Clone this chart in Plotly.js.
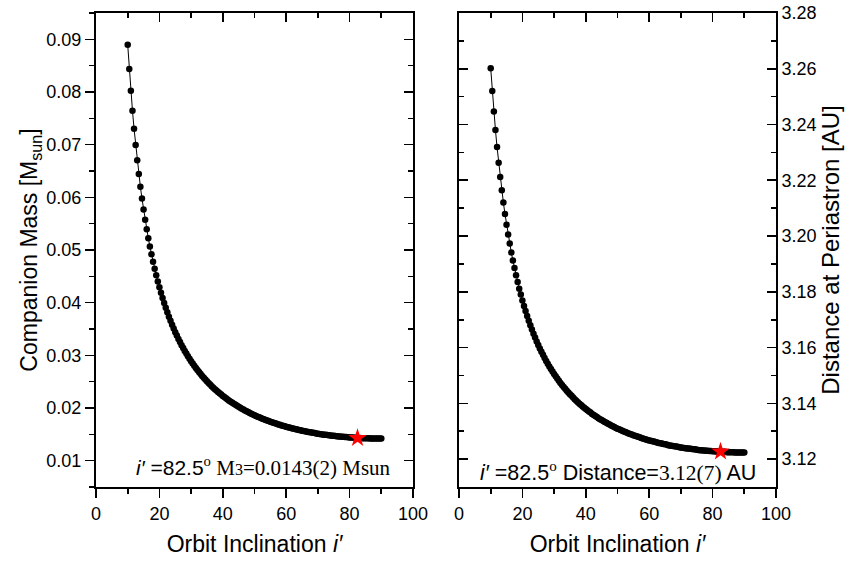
<!DOCTYPE html>
<html>
<head>
<meta charset="utf-8">
<script src="https://cdn.plot.ly/plotly-3.0.1.min.js"></script>
<style>html,body{margin:0;padding:0;background:#fff;}#chart{width:859px;height:562px;}</style>
</head>
<body>
<div id="chart"></div>
<script>
const inclination = [
10,10.5,11,11.5,12,12.5,13,13.5,14,14.5,
15,15.5,16,16.5,17,17.5,18,18.5,19,19.5,
20,20.5,21,21.5,22,22.5,23,23.5,24,24.5,
25,25.5,26,26.5,27,27.5,28,28.5,29,29.5,
30,30.5,31,31.5,32,32.5,33,33.5,34,34.5,
35,35.5,36,36.5,37,37.5,38,38.5,39,39.5,
40,40.5,41,41.5,42,42.5,43,43.5,44,44.5,
45,45.5,46,46.5,47,47.5,48,48.5,49,49.5,
50,50.5,51,51.5,52,52.5,53,53.5,54,54.5,
55,55.5,56,56.5,57,57.5,58,58.5,59,59.5,
60,60.5,61,61.5,62,62.5,63,63.5,64,64.5,
65,65.5,66,66.5,67,67.5,68,68.5,69,69.5,
70,70.5,71,71.5,72,72.5,73,73.5,74,74.5,
75,75.5,76,76.5,77,77.5,78,78.5,79,79.5,
80,80.5,81,81.5,82,82.5,83,83.5,84,84.5,
85,85.5,86,86.5,87,87.5,88,88.5,89,89.5,
90];

const companionMass = [
0.08899,0.08437,0.08022,0.07646,0.07304,0.06992,0.06706,0.06443,0.06201,0.05976,
0.05768,0.05574,0.05393,0.05224,0.05066,0.04917,0.04777,0.04646,0.04521,0.04404,
0.04293,0.04187,0.04087,0.03992,0.03902,0.03816,0.03734,0.03655,0.03580,0.03509,
0.03440,0.03375,0.03312,0.03251,0.03193,0.03138,0.03084,0.03033,0.02983,0.02935,
0.02889,0.02845,0.02802,0.02761,0.02721,0.02682,0.02645,0.02609,0.02574,0.02540,
0.02507,0.02476,0.02445,0.02415,0.02386,0.02358,0.02331,0.02305,0.02279,0.02254,
0.02230,0.02207,0.02184,0.02162,0.02140,0.02119,0.02099,0.02079,0.02060,0.02041,
0.02022,0.02005,0.01987,0.01970,0.01954,0.01938,0.01922,0.01907,0.01892,0.01877,
0.01863,0.01850,0.01836,0.01823,0.01810,0.01798,0.01786,0.01774,0.01762,0.01751,
0.01740,0.01729,0.01719,0.01709,0.01699,0.01689,0.01680,0.01670,0.01661,0.01653,
0.01644,0.01636,0.01628,0.01620,0.01612,0.01604,0.01597,0.01590,0.01583,0.01576,
0.01570,0.01563,0.01557,0.01551,0.01545,0.01539,0.01534,0.01528,0.01523,0.01518,
0.01513,0.01508,0.01503,0.01499,0.01494,0.01490,0.01486,0.01482,0.01478,0.01475,
0.01471,0.01468,0.01464,0.01461,0.01458,0.01455,0.01452,0.01450,0.01447,0.01445,
0.01442,0.01440,0.01438,0.01436,0.01434,0.01432,0.01431,0.01429,0.01428,0.01427,
0.01426,0.01424,0.01424,0.01423,0.01422,0.01421,0.01421,0.01420,0.01420,0.01420,
0.01420];

const periastronDistance = [
3.2602,3.2520,3.2447,3.2380,3.2319,3.2263,3.2212,3.2164,3.2120,3.2079,
3.2041,3.2006,3.1973,3.1941,3.1912,3.1885,3.1859,3.1835,3.1811,3.1790,
3.1769,3.1749,3.1731,3.1713,3.1696,3.1680,3.1665,3.1650,3.1636,3.1622,
3.1609,3.1597,3.1585,3.1574,3.1563,3.1552,3.1542,3.1532,3.1523,3.1514,
3.1505,3.1497,3.1489,3.1481,3.1473,3.1466,3.1459,3.1452,3.1445,3.1439,
3.1433,3.1427,3.1421,3.1415,3.1409,3.1404,3.1399,3.1394,3.1389,3.1384,
3.1380,3.1375,3.1371,3.1367,3.1362,3.1358,3.1355,3.1351,3.1347,3.1343,
3.1340,3.1337,3.1333,3.1330,3.1327,3.1324,3.1321,3.1318,3.1315,3.1312,
3.1309,3.1307,3.1304,3.1302,3.1299,3.1297,3.1295,3.1292,3.1290,3.1288,
3.1286,3.1284,3.1282,3.1280,3.1278,3.1276,3.1274,3.1272,3.1270,3.1269,
3.1267,3.1266,3.1264,3.1263,3.1261,3.1260,3.1258,3.1257,3.1256,3.1254,
3.1253,3.1252,3.1250,3.1249,3.1248,3.1247,3.1246,3.1245,3.1244,3.1243,
3.1242,3.1241,3.1240,3.1239,3.1238,3.1238,3.1237,3.1236,3.1235,3.1235,
3.1234,3.1233,3.1232,3.1232,3.1231,3.1231,3.1230,3.1230,3.1229,3.1229,
3.1228,3.1228,3.1227,3.1227,3.1227,3.1226,3.1226,3.1226,3.1226,3.1225,
3.1225,3.1225,3.1225,3.1225,3.1224,3.1224,3.1224,3.1224,3.1224,3.1224,
3.1224];

const bestInclination = [82.5];
const bestMass = [0.0143];
const bestDistance = [3.1227];

const massTicks = [0.01,0.02,0.03,0.04,0.05,0.06,0.07,0.08,0.09];
const distTicks = [3.12,3.14,3.16,3.18,3.20,3.22,3.24,3.26,3.28];
const incTicks = [0,20,40,60,80,100];

const SANS = 'Liberation Sans, Arial, sans-serif';
const SERIF = 'Liberation Serif, Times New Roman, serif';

function base(extra) {
  return Object.assign({
    showline: true, linecolor: '#000', linewidth: 2,
    showgrid: false, zeroline: false,
    ticks: 'outside', ticklen: 9, tickwidth: 1.6, tickcolor: '#000',
    tickfont: {family: SANS, size: 18, color: '#000'},
    fixedrange: true
  }, extra);
}

const curveStyle = {
  mode: 'lines+markers',
  line: {color: '#000', width: 1},
  marker: {color: '#000', size: 6.5},
  showlegend: false, hoverinfo: 'skip'
};
const starStyle = {
  mode: 'markers',
  marker: {symbol: 'star', color: '#ff0000', size: 14, line: {width: 0}},
  showlegend: false, hoverinfo: 'skip'
};
const frameStub = {mode: 'markers', showlegend: false, hoverinfo: 'skip', marker: {opacity: 0}};

const data = [
  Object.assign({x: inclination, y: companionMass, xaxis: 'x', yaxis: 'y'}, curveStyle),
  Object.assign({x: bestInclination, y: bestMass, xaxis: 'x', yaxis: 'y'}, starStyle),
  Object.assign({x: inclination, y: periastronDistance, xaxis: 'x2', yaxis: 'y2'}, curveStyle),
  Object.assign({x: bestInclination, y: bestDistance, xaxis: 'x2', yaxis: 'y2'}, starStyle),
  // empty traces so that the mirror frame axes are drawn
  Object.assign({x: [], y: [], xaxis: 'x3', yaxis: 'y'}, frameStub),
  Object.assign({x: [], y: [], xaxis: 'x', yaxis: 'y3'}, frameStub),
  Object.assign({x: [], y: [], xaxis: 'x4', yaxis: 'y2'}, frameStub),
  Object.assign({x: [], y: [], xaxis: 'x2', yaxis: 'y4'}, frameStub)
];

const xMinor = {dtick: 10, ticklen: 5, tickwidth: 1.6, tickcolor: '#000', ticks: 'outside'};
const xMinorIn = {dtick: 10, ticklen: 5, tickwidth: 1.6, tickcolor: '#000', ticks: 'inside'};
const titleFont = {family: SANS, size: 23, color: '#000'};

const layout = {
  width: 859, height: 562,
  margin: {l: 96, r: 83, t: 13, b: 75},
  paper_bgcolor: '#fff', plot_bgcolor: '#fff',
  font: {family: SANS, color: '#000'},
  xaxis: base({domain: [0, 317/680], anchor: 'y', range: [0, 100],
    tickvals: incTicks, minor: xMinor,
    title: {text: 'Orbit Inclination <i>i′</i>', font: titleFont, standoff: 13}}),
  yaxis: base({domain: [0, 1], anchor: 'x', range: [0.005, 0.095],
    tickvals: massTicks, ticktext: massTicks.map(v => v.toFixed(2)),
    minor: {dtick: 0.005, tick0: 0, ticklen: 5, tickwidth: 1.6, tickcolor: '#000', ticks: 'outside'},
    title: {text: 'Companion Mass [M<sub>sun</sub>]', font: titleFont, standoff: 2}}),
  xaxis3: base({overlaying: 'x', side: 'top', anchor: 'y', range: [0, 100],
    tickvals: incTicks, showticklabels: false, ticks: 'inside', minor: xMinorIn}),
  yaxis3: base({overlaying: 'y', side: 'right', anchor: 'x', range: [0.005, 0.095],
    tickvals: massTicks, showticklabels: false, ticks: 'inside',
    minor: {dtick: 0.005, tick0: 0, ticklen: 5, tickwidth: 1.6, tickcolor: '#000', ticks: 'inside'}}),
  xaxis2: base({domain: [363/680, 1], anchor: 'y2', range: [0, 100],
    tickvals: incTicks, minor: xMinor,
    title: {text: 'Orbit Inclination <i>i′</i>', font: titleFont, standoff: 13}}),
  yaxis2: base({domain: [0, 1], anchor: 'x2', side: 'right', range: [3.11, 3.28],
    tickvals: distTicks, ticktext: distTicks.map(v => v.toFixed(2)), ticks: 'inside',
    minor: {dtick: 0.01, tick0: 3.11, ticklen: 5, tickwidth: 1.6, tickcolor: '#000', ticks: 'inside'},
    title: {text: 'Distance at Periastron [AU]', font: {family: SANS, size: 24, color: '#000'}, standoff: 6}}),
  xaxis4: base({overlaying: 'x2', side: 'top', anchor: 'y2', range: [0, 100],
    tickvals: incTicks, showticklabels: false, ticks: 'inside', minor: xMinorIn}),
  yaxis4: base({overlaying: 'y2', side: 'left', anchor: 'x2', range: [3.11, 3.28],
    tickvals: distTicks, showticklabels: false, ticks: 'inside',
    minor: {dtick: 0.01, tick0: 3.11, ticklen: 5, tickwidth: 1.6, tickcolor: '#000', ticks: 'inside'}}),
  annotations: [
    {xref: 'x', yref: 'y', x: 93.7, y: 0.0088, xanchor: 'right', yanchor: 'middle', showarrow: false,
     font: {family: SANS, size: 21, color: '#000'},
     text: '<i>i′</i> =82.5<span style="font-family:' + SERIF + '"><sup>o</sup> M<span style="font-size:16px">3</span>=0.0143(2) Msun</span>'},
    {xref: 'x2', yref: 'y2', x: 94.3, y: 3.1155, xanchor: 'right', yanchor: 'middle', showarrow: false,
     font: {family: SANS, size: 21.5, color: '#000'},
     text: '<i>i′</i> =82.5<span style="font-family:' + SERIF + '"><sup>o</sup></span> Distance=<span style="font-family:' + SERIF + '">3.12(7)</span> AU'}
  ]
};

Plotly.newPlot('chart', data, layout, {staticPlot: true, displayModeBar: false});
</script>
</body>
</html>
